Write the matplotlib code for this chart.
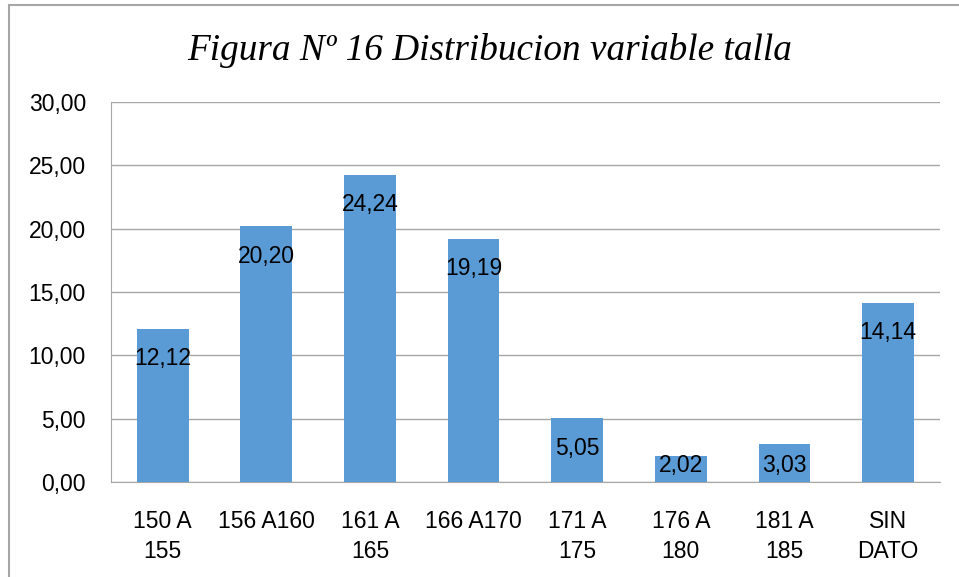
import matplotlib.pyplot as plt
from matplotlib.patches import Rectangle
from matplotlib.ticker import FuncFormatter

categorias = ["150 A\n155", "156 A160", "161 A\n165", "166 A170",
              "171 A\n175", "176 A\n180", "181 A\n185", "SIN\nDATO"]
valores = [12.12, 20.20, 24.24, 19.19, 5.05, 2.02, 3.03, 14.14]
ticks_y = [0, 5, 10, 15, 20, 25, 30]

plt.rcParams['font.family'] = ['Liberation Sans', 'DejaVu Sans']

fig = plt.figure(figsize=(9.59, 5.77), dpi=100)
ax = fig.add_axes([0.1157, 0.1646, 0.980 - 0.1157, 0.8232 - 0.1646])

x = list(range(len(categorias)))
ax.bar(x, valores, width=0.5, color='#5B9BD5', zorder=3)

# etiquetas dentro del extremo, sin bajar del eje
for xi, v in zip(x, valores):
    ax.text(xi, max(v - 2.37, 1.34), f"{v:.2f}".replace('.', ','),
            ha='center', va='center', fontsize=16.5, color='black', zorder=4)

ax.set_xlim(-0.5, len(categorias) - 0.5)
ax.set_ylim(0, 30)
ax.set_yticks(ticks_y)
ax.yaxis.set_major_formatter(FuncFormatter(lambda v, p: f"{v:.2f}".replace('.', ',')))
ax.set_xticks(x)
ax.set_xticklabels(categorias, fontsize=16.5, linespacing=1.4)
ax.tick_params(axis='y', labelsize=16.5, length=0, pad=18)
ax.tick_params(axis='x', length=0, pad=20)

ax.grid(axis='y', color='#a6a6a6', linewidth=1, zorder=0)
for s in ['top', 'right']:
    ax.spines[s].set_visible(False)
ax.spines['left'].set_color('#a6a6a6')
ax.spines['bottom'].set_color('#a6a6a6')

fig.text(490 / 959, 1 - 50 / 577, "Figura Nº 16 Distribucion variable talla",
         family=['Liberation Serif', 'DejaVu Serif'], style='italic',
         fontsize=26.8, ha='center', va='center')

fig.patches.append(Rectangle((8.5 / 959, -0.05), 1.2, 1 - 4.5 / 577 + 0.05,
                             transform=fig.transFigure, fill=False,
                             edgecolor='#a6a6a6', linewidth=1.5))

fig.savefig('out.png', dpi=100)
